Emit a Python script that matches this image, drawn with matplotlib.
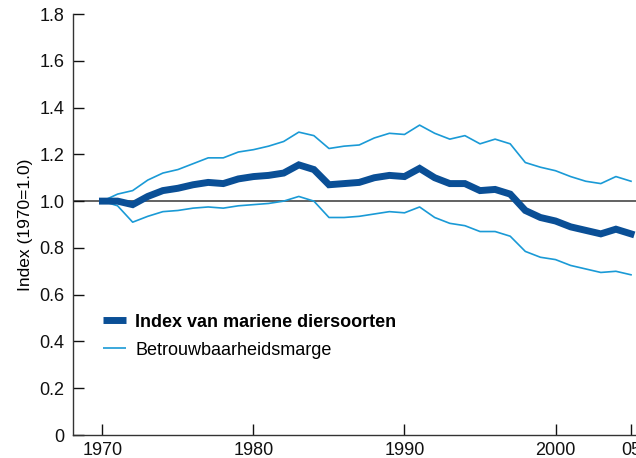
import matplotlib
matplotlib.use("Agg")
import matplotlib.pyplot as plt

plt.rcParams['font.family'] = ['Liberation Sans', 'DejaVu Sans']

years = list(range(1970, 2006))

index = [1.00, 1.00, 0.985, 1.02, 1.045, 1.055, 1.07, 1.08, 1.075, 1.095,
         1.105, 1.11, 1.12, 1.155, 1.135, 1.07, 1.075, 1.08, 1.10, 1.11,
         1.105, 1.14, 1.10, 1.075, 1.075, 1.045, 1.05, 1.03, 0.96, 0.93,
         0.915, 0.89, 0.875, 0.86, 0.88, 0.86]

upper = [1.00, 1.03, 1.045, 1.09, 1.12, 1.135, 1.16, 1.185, 1.185, 1.21,
         1.22, 1.235, 1.255, 1.295, 1.28, 1.225, 1.235, 1.24, 1.27, 1.29,
         1.285, 1.325, 1.29, 1.265, 1.28, 1.245, 1.265, 1.245, 1.165, 1.145,
         1.13, 1.105, 1.085, 1.075, 1.105, 1.085]

lower = [1.00, 0.98, 0.91, 0.935, 0.955, 0.96, 0.97, 0.975, 0.97, 0.98,
         0.985, 0.99, 1.00, 1.02, 1.00, 0.93, 0.93, 0.935, 0.945, 0.955,
         0.95, 0.975, 0.93, 0.905, 0.895, 0.87, 0.87, 0.85, 0.785, 0.76,
         0.75, 0.725, 0.71, 0.695, 0.70, 0.685]

xticks = [1970, 1980, 1990, 2000, 2005]
xticklabels = ['1970', '1980', '1990', '2000', '05']
yticks = [0, 0.2, 0.4, 0.6, 0.8, 1.0, 1.2, 1.4, 1.6, 1.8]
yticklabels = ['0', '0.2', '0.4', '0.6', '0.8', '1.0', '1.2', '1.4', '1.6', '1.8']

dark = '#0a4f96'
light = '#1a9ad6'

fig = plt.figure(figsize=(6.36, 4.58), dpi=100)
ax = fig.add_axes([0.1148, 0.0502, 0.8852, 0.9192])

# referentielijn op 1.0
ax.axhline(1.0, color='#555555', lw=1.3, zorder=1)
ax.plot(years, upper, color=light, lw=1.2, label='Betrouwbaarheidsmarge', zorder=2)
ax.plot(years, lower, color=light, lw=1.2, zorder=2)
ax.plot(years, index, color=dark, lw=5, label='Index van mariene diersoorten',
        solid_joinstyle='miter', zorder=3)

ax.set_xlim(1968.05, 2005.33)
ax.set_ylim(0, 1.8)
ax.set_xticks(xticks)
ax.set_xticklabels(xticklabels)
ax.set_yticks(yticks)
ax.set_yticklabels(yticklabels)
ax.tick_params(direction='in', length=8, width=1, labelsize=13, colors='#111111')
ax.tick_params(axis='x', pad=5)
ax.tick_params(axis='y', pad=6)
ax.spines['top'].set_visible(False)
ax.spines['right'].set_visible(False)
for s in ['left', 'bottom']:
    ax.spines[s].set_color('#333333')
    ax.spines[s].set_linewidth(1)

ax.set_ylabel('Index (1970=1.0)', fontsize=12.5, labelpad=5)

handles, labels = ax.get_legend_handles_labels()
leg = ax.legend(handles[::-1], labels[::-1], loc='upper left', bbox_to_anchor=(0.053, 0.288),
                frameon=False, fontsize=13, handlelength=1.3, handletextpad=0.5,
                labelspacing=0.6, borderpad=0, borderaxespad=0)
leg.get_texts()[0].set_fontweight('bold')
for line in leg.get_lines():
    line.set_solid_capstyle('butt')

fig.savefig('out.png', dpi=100)
